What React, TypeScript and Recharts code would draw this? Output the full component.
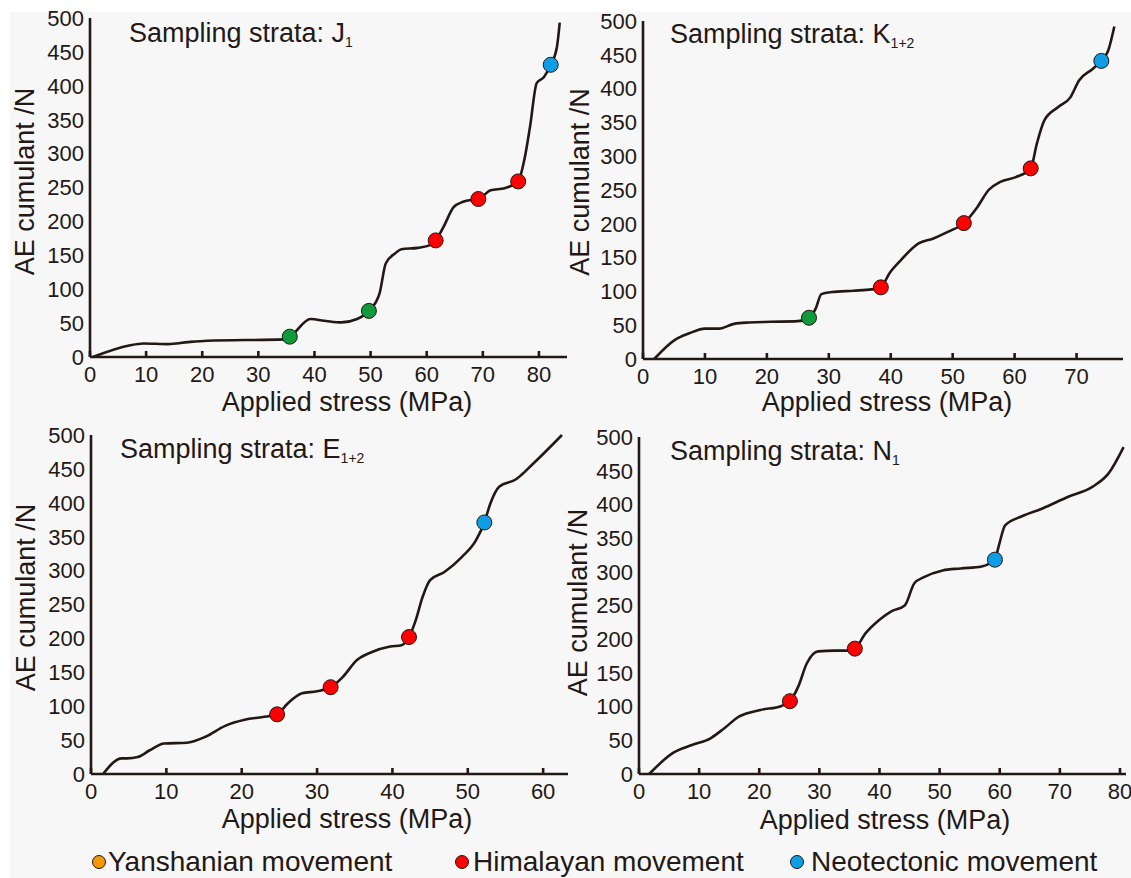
import React from 'react';
import { ComposedChart, Line, Scatter, XAxis, YAxis } from 'recharts';

const INK = '#231815';
const GREEN = '#109a3c';
const RED = '#ff0000';
const BLUE = '#0f9ee6';
const ORANGE = '#f39800';
const FONT = '"Liberation Sans", Arial, Helvetica, sans-serif';

const AE_TICKS = [0, 50, 100, 150, 200, 250, 300, 350, 400, 450, 500];
const STRESS_TICKS_J1 = [0, 10, 20, 30, 40, 50, 60, 70, 80];
const STRESS_TICKS_K12 = [0, 10, 20, 30, 40, 50, 60, 70];
const STRESS_TICKS_E12 = [0, 10, 20, 30, 40, 50, 60];
const STRESS_TICKS_N1 = [0, 10, 20, 30, 40, 50, 60, 70, 80];

// J1 curve (stress MPa, AE count)
const J1_STRESS = [0.5, 7, 9.5, 13.9, 17.5, 20.9, 34.5, 35.6, 39.3, 42.1, 44.8, 47.6, 49.7, 51.6, 52.7, 54.4, 55.5, 58.4, 60.6, 61.6, 63, 64.8, 66.5, 68.2, 69.2, 71.4, 73.9, 76.3, 77.4, 78.4, 79.6, 80.9, 82.1, 83.2, 83.7];
const J1_AE = [0, 17, 20, 19, 22, 24, 26, 30, 56, 53, 51, 56, 68, 94, 138, 153, 159, 161, 165, 172, 192, 221, 229, 232, 233, 246, 249, 259, 291, 339, 404, 413, 431, 457, 493];
const J1_YANSHAN = [[35.6, 30], [49.7, 68]];
const J1_HIMALAYA = [[61.6, 172], [69.2, 233], [76.3, 259]];
const J1_NEO = [[82.1, 431]];

// K1+2
const K12_STRESS = [1.8, 5.1, 7.5, 10, 12.3, 14.7, 17.1, 20.6, 25, 26.8, 27.9, 28.8, 30.5, 34, 36.9, 38.4, 39.8, 41.6, 44.5, 46.8, 49.2, 51.8, 54, 55.8, 57.7, 60.2, 62.6, 63.6, 64.8, 67.1, 69, 70.4, 72.6, 74, 75.1, 76.1];
const K12_AE = [0, 28, 38, 45, 45, 52, 54, 55, 56, 61, 75, 96, 99, 101, 103, 106, 127, 146, 171, 178, 188, 201, 225, 250, 262, 269, 282, 319, 353, 373, 387, 412, 429, 441, 456, 492];
const K12_YANSHAN = [[26.8, 61]];
const K12_HIMALAYA = [[38.4, 106], [51.8, 201], [62.6, 282]];
const K12_NEO = [[74, 441]];

// E1+2
const E12_STRESS = [1.6, 4.1, 4.8, 6.2, 7.8, 9.7, 12.7, 15.2, 17.8, 20.4, 22.8, 24.7, 26.1, 28, 30, 31.8, 33.4, 35.3, 37.3, 39.7, 41.2, 42.2, 43.1, 44, 45, 46.9, 49.2, 51.1, 52.2, 53, 54.2, 56.3, 58.7, 62.5];
const E12_AE = [0, 23, 23, 25, 35, 45, 46, 55, 71, 80, 84, 88, 104, 119, 122, 128, 143, 168, 180, 188, 190, 202, 227, 261, 286, 298, 320, 345, 371, 399, 424, 434, 458, 500];
const E12_HIMALAYA = [[24.7, 88], [31.8, 128], [42.2, 202]];
const E12_NEO = [[52.2, 371]];

// N1
const N1_STRESS = [1.7, 5.6, 8.8, 11.9, 14.2, 16.6, 20.2, 23.7, 25.1, 26.5, 27.9, 29.8, 32.5, 34.8, 35.9, 37.7, 40, 41.9, 44.2, 45.8, 47.4, 50.5, 53.5, 57, 59.2, 59.8, 60.9, 63.6, 67.1, 71.3, 75.4, 78.1, 80.6];
const N1_AE = [0, 31, 43, 53, 68, 85, 95, 101, 108, 130, 164, 182, 183, 183, 186, 209, 229, 241, 250, 283, 292, 302, 305, 308, 318, 337, 369, 382, 394, 411, 426, 446, 485];
const N1_HIMALAYA = [[25.1, 108], [35.9, 186]];
const N1_NEO = [[59.2, 318]];

const toCurve = (s: number[], n: number[]) => s.map((v, i) => ({ s: v, n: n[i] }));
const toPts = (pts: number[][]) => pts.map(([s, n]) => ({ s, n }));

const TICK_MARGIN = 9;
const X_AXIS_H = 60;

const XTick = (props: any) => {
  const { x, y, payload } = props;
  const axisY = y - TICK_MARGIN;
  return (
    <g>
      <line x1={x} x2={x} y1={axisY} y2={axisY - 6} stroke={INK} strokeWidth={2.6} />
      <text x={x} y={y} dy="0.72em" textAnchor="middle" fill={INK} fontSize={22} fontFamily={FONT}>
        {payload.value}
      </text>
    </g>
  );
};

const dotShape = (color: string) => (p: any) =>
  <circle cx={p.cx} cy={p.cy} r={7.5} fill={color} stroke={INK} strokeWidth={1} />;

interface PanelProps {
  left: number;
  top: number;
  width: number;
  height: number;
  margin: { top: number; right: number; bottom: number; left: number };
  yWidth: number;
  xMax: number;
  xTicks: number[];
  curve: { s: number; n: number }[];
  markers: { data: { s: number; n: number }[]; color: string }[];
  yTitleX: number;
  yTitleDy: number;
  xTitleX: number;
  xTitleBase: number;
}

const Panel = (p: PanelProps) => (
  <div style={{ position: 'absolute', left: p.left, top: p.top }}>
    <ComposedChart width={p.width} height={p.height} margin={p.margin}>
      <XAxis
        type="number"
        dataKey="s"
        domain={[0, p.xMax]}
        ticks={p.xTicks}
        interval={0}
        tickSize={0}
        tickMargin={TICK_MARGIN}
        tickLine={false}
        tick={<XTick />}
        height={X_AXIS_H}
        axisLine={{ stroke: INK, strokeWidth: 2.6 }}
        label={{
          content: () => (
            <text x={p.xTitleX - p.left} y={p.xTitleBase - p.top} textAnchor="middle" fill={INK} fontSize={27} fontFamily={FONT}>
              Applied stress (MPa)
            </text>
          ),
        }}
      />
      <YAxis
        type="number"
        dataKey="n"
        domain={[0, 500]}
        ticks={AE_TICKS}
        interval={0}
        width={p.yWidth}
        tickSize={0}
        tickMargin={6}
        tickLine={false}
        tick={{ fill: INK, fontSize: 22, fontFamily: FONT }}
        axisLine={{ stroke: INK, strokeWidth: 2.6 }}
        label={{
          content: (lp: any) => {
            const vb = lp.viewBox;
            const cx = p.yTitleX;
            const cy = vb.y + vb.height / 2 + p.yTitleDy;
            return (
              <text x={cx} y={cy} transform={`rotate(-90 ${cx} ${cy})`} textAnchor="middle" dominantBaseline="central" fill={INK} fontSize={27} fontFamily={FONT}>
                AE cumulant /N
              </text>
            );
          },
        }}
      />
      <Line data={p.curve} dataKey="n" type="monotone" stroke={INK} strokeWidth={2.6} dot={false} activeDot={false} isAnimationActive={false} />
      {p.markers.map((m, i) => (
        <Scatter key={i} data={m.data} dataKey="n" fill={m.color} shape={dotShape(m.color)} isAnimationActive={false} />
      ))}
    </ComposedChart>
  </div>
);

export default function App() {
  return (
    <div style={{ position: 'absolute', left: 0, top: 0, width: 1131, height: 878, background: '#ffffff', fontFamily: FONT }}>
      <div style={{ position: 'absolute', left: 10, top: 12, right: 0, bottom: 0, background: '#f7f7f7' }} />
      <Panel
        left={0} top={0} width={570} height={420}
        margin={{ top: 18, right: 3, bottom: 3, left: 0 }}
        yWidth={90} xMax={85} xTicks={STRESS_TICKS_J1}
        curve={toCurve(J1_STRESS, J1_AE)}
        markers={[
          { data: toPts(J1_YANSHAN), color: GREEN },
          { data: toPts(J1_HIMALAYA), color: RED },
          { data: toPts(J1_NEO), color: BLUE },
        ]}
        yTitleX={24.5} yTitleDy={-6} xTitleX={347} xTitleBase={411}
      />
      <Panel
        left={555} top={0} width={576} height={420}
        margin={{ top: 21, right: 8, bottom: 1, left: 0 }}
        yWidth={88} xMax={77.5} xTicks={STRESS_TICKS_K12}
        curve={toCurve(K12_STRESS, K12_AE)}
        markers={[
          { data: toPts(K12_YANSHAN), color: GREEN },
          { data: toPts(K12_HIMALAYA), color: RED },
          { data: toPts(K12_NEO), color: BLUE },
        ]}
        yTitleX={25.4} yTitleDy={-8} xTitleX={887} xTitleBase={411}
      />
      <Panel
        left={0} top={420} width={570} height={420}
        margin={{ top: 15, right: 2, bottom: 6, left: 0 }}
        yWidth={91} xMax={63.3} xTicks={STRESS_TICKS_E12}
        curve={toCurve(E12_STRESS, E12_AE)}
        markers={[
          { data: toPts(E12_HIMALAYA), color: RED },
          { data: toPts(E12_NEO), color: BLUE },
        ]}
        yTitleX={25.5} yTitleDy={-7} xTitleX={347} xTitleBase={828}
      />
      <Panel
        left={555} top={420} width={576} height={420}
        margin={{ top: 17, right: 5, bottom: 6, left: 0 }}
        yWidth={84} xMax={81} xTicks={STRESS_TICKS_N1}
        curve={toCurve(N1_STRESS, N1_AE)}
        markers={[
          { data: toPts(N1_HIMALAYA), color: RED },
          { data: toPts(N1_NEO), color: BLUE },
        ]}
        yTitleX={22.7} yTitleDy={-3} xTitleX={885} xTitleBase={829}
      />
      <svg width={1131} height={878} style={{ position: 'absolute', left: 0, top: 0, pointerEvents: 'none' }}>
        <g fill={INK} fontFamily={FONT}>
          <text x={129} y={42} fontSize={27}>Sampling strata: J<tspan fontSize={14} dy={5}>1</tspan></text>
          <text x={670} y={43} fontSize={27}>Sampling strata: K<tspan fontSize={14} dy={5}>1+2</tspan></text>
          <text x={120} y={458} fontSize={27}>Sampling strata: E<tspan fontSize={14} dy={5}>1+2</tspan></text>
          <text x={670} y={460} fontSize={27}>Sampling strata: N<tspan fontSize={14} dy={5}>1</tspan></text>
        </g>
        <g fontFamily={FONT} fontSize={28} fill={INK} style={{ whiteSpace: 'pre' }}>
          <circle cx={99} cy={862} r={6.5} fill={ORANGE} stroke={INK} strokeWidth={1} />
          <text x={108} y={871}>{'Yanshanian  movement'}</text>
          <circle cx={462} cy={862} r={6.5} fill={RED} stroke={INK} strokeWidth={1} />
          <text x={473} y={871}>{'Himalayan  movement'}</text>
          <circle cx={797} cy={862} r={6.5} fill={BLUE} stroke={INK} strokeWidth={1} />
          <text x={811} y={871}>{'Neotectonic movement'}</text>
        </g>
      </svg>
    </div>
  );
}
